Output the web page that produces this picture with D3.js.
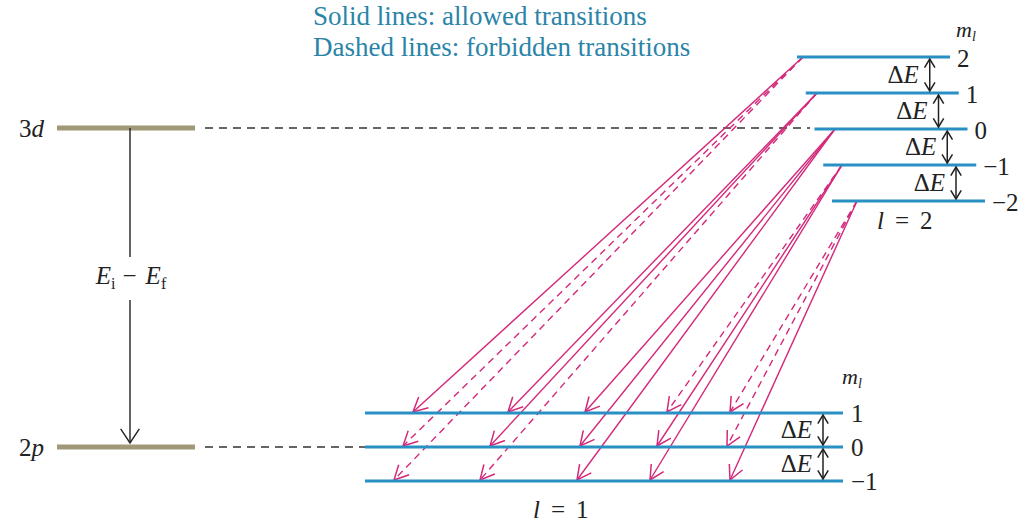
<!DOCTYPE html>
<html>
<head>
<meta charset="utf-8">
<script src="https://cdn.jsdelivr.net/npm/d3@7"></script>
<style>
  body { margin: 0; background: #fff; }
  text { font-family: "Liberation Serif", "DejaVu Serif", serif; }
</style>
</head>
<body>
<svg id="chart"></svg>
<script>
// data
const upperM = [2, 1, 0, -1, -2];      // l = 2 sublevels
const lowerM = [1, 0, -1];             // l = 1 sublevels
const legendLines = ["Solid lines: allowed transitions", "Dashed lines: forbidden transitions"];
const termLabels = ["3d", "2p"];

const width = 1030, height = 523;
const blue = "#2890c4", olive = "#a09876", magenta = "#d4287a", ink = "#222";

const svg = d3.select("#chart").attr("width", width).attr("height", height);
const fmt = d3.format("d");

// scales
const yUp = d3.scaleLinear().domain([2, -2]).range([57, 201]);
const xUpLeft = d3.scaleLinear().domain([2, -2]).range([797, 832]);
const upLen = 153;
const yLow = d3.scaleLinear().domain([1, -1]).range([413, 481]);
const xLow = [365, 843];
const yTerm = d3.scalePoint().domain(termLabels).range([128, 447]);

// transition start / tip positions
const startX = d3.scaleLinear().domain(upperM).range([803, 817, 835, 842, 857]);
const tipX = {
  "1": d3.scaleLinear().domain(upperM).range([413, 508, 585, 667, 730]),
  "0": d3.scaleLinear().domain(upperM).range([403, 490, 580, 657, 727]),
  "-1": d3.scaleLinear().domain(upperM).range([394, 480, 577, 650, 730])
};

function vHead(x, y, ang, len, half) {
  // open V arrowhead, tip at (x,y), ang = direction of travel
  const a1 = ang + Math.PI - half, a2 = ang + Math.PI + half;
  return `M${x + len * Math.cos(a1)},${y + len * Math.sin(a1)}L${x},${y}L${x + len * Math.cos(a2)},${y + len * Math.sin(a2)}`;
}

// legend
svg.append("g").selectAll("text").data(legendLines).join("text")
  .attr("x", 313).attr("y", (d, i) => 25 + i * 31)
  .attr("font-size", 27).attr("fill", "#2a84a8")
  .text(d => d);

// term levels (3d, 2p)
svg.append("g").selectAll("line").data(termLabels).join("line")
  .attr("x1", 57).attr("x2", 195)
  .attr("y1", d => yTerm(d)).attr("y2", d => yTerm(d))
  .attr("stroke", olive).attr("stroke-width", 5);

const tl = svg.append("g").selectAll("text").data(termLabels).join("text")
  .attr("x", 44).attr("y", d => yTerm(d) + 9)
  .attr("text-anchor", "end").attr("font-size", 25).attr("fill", ink);
tl.append("tspan").text(d => d[0]);
tl.append("tspan").attr("font-style", "italic").text(d => d[1]);

// dashed connectors
svg.append("line").attr("x1", 205).attr("x2", 810)
  .attr("y1", yTerm("3d")).attr("y2", yTerm("3d"))
  .attr("stroke", "#333").attr("stroke-width", 1.4).attr("stroke-dasharray", "8,6");
svg.append("line").attr("x1", 205).attr("x2", xLow[0])
  .attr("y1", yTerm("2p")).attr("y2", yTerm("2p"))
  .attr("stroke", "#333").attr("stroke-width", 1.4).attr("stroke-dasharray", "8,6");

// Ei - Ef arrow
const ax = 130;
svg.append("line").attr("x1", ax).attr("x2", ax).attr("y1", yTerm("3d")).attr("y2", 257)
  .attr("stroke", ink).attr("stroke-width", 1.4);
svg.append("line").attr("x1", ax).attr("x2", ax).attr("y1", 300).attr("y2", yTerm("2p") - 4)
  .attr("stroke", ink).attr("stroke-width", 1.4);
svg.append("path").attr("d", vHead(ax, yTerm("2p") - 4, Math.PI / 2, 17, 0.58))
  .attr("fill", "none").attr("stroke", ink).attr("stroke-width", 1.4);
const eq = svg.append("text").attr("x", 131).attr("y", 284).attr("text-anchor", "middle")
  .attr("font-size", 25).attr("fill", ink);
eq.append("tspan").attr("font-style", "italic").text("E");
eq.append("tspan").attr("font-size", 16).attr("dy", 5).text("i");
eq.append("tspan").attr("dy", -5).attr("dx", 7).text("−");
eq.append("tspan").attr("dx", 9).attr("font-style", "italic").text("E");
eq.append("tspan").attr("font-size", 16).attr("dy", 5).text("f");

// transitions
const trans = d3.cross(upperM, lowerM).map(([mi, mf]) => ({ mi, mf, allowed: Math.abs(mi - mf) <= 1 }));
const tg = svg.append("g");
trans.forEach(t => {
  const x1 = startX(t.mi), y1 = yUp(t.mi);
  const x2 = tipX[String(t.mf)](t.mi), y2 = yLow(t.mf) - 1;
  const ang = Math.atan2(y2 - y1, x2 - x1);
  tg.append("line").attr("x1", x1).attr("y1", y1).attr("x2", x2).attr("y2", y2)
    .attr("stroke", magenta).attr("stroke-width", 1.4)
    .attr("stroke-dasharray", t.allowed ? null : "7,5");
  tg.append("path").attr("d", vHead(x2, y2, ang, 16, 0.47))
    .attr("fill", "none").attr("stroke", magenta).attr("stroke-width", 1.5);
});

// upper levels (l = 2)
svg.append("g").selectAll("line").data(upperM).join("line")
  .attr("x1", d => xUpLeft(d)).attr("x2", d => xUpLeft(d) + upLen)
  .attr("y1", d => yUp(d)).attr("y2", d => yUp(d))
  .attr("stroke", blue).attr("stroke-width", 3);
svg.append("g").selectAll("text").data(upperM).join("text")
  .attr("x", d => xUpLeft(d) + upLen + 7).attr("y", d => yUp(d) + 10)
  .attr("font-size", 25).attr("fill", ink).text(d => fmt(d));

// lower levels (l = 1)
svg.append("g").selectAll("line").data(lowerM).join("line")
  .attr("x1", xLow[0]).attr("x2", xLow[1])
  .attr("y1", d => yLow(d)).attr("y2", d => yLow(d))
  .attr("stroke", blue).attr("stroke-width", 3);
svg.append("g").selectAll("text").data(lowerM).join("text")
  .attr("x", xLow[1] + 8).attr("y", d => yLow(d) + 9)
  .attr("font-size", 25).attr("fill", ink).text(d => fmt(d));

// delta E markers
function deltaE(x, yTop, yBot) {
  const g = svg.append("g");
  g.append("line").attr("x1", x).attr("x2", x).attr("y1", yTop + 2).attr("y2", yBot - 2)
    .attr("stroke", ink).attr("stroke-width", 1.5);
  g.append("path").attr("d", vHead(x, yTop + 2, -Math.PI / 2, 10, 0.55) + vHead(x, yBot - 2, Math.PI / 2, 10, 0.55))
    .attr("fill", "none").attr("stroke", ink).attr("stroke-width", 1.5);
  const t = g.append("text").attr("x", x - 11).attr("y", (yTop + yBot) / 2 + 8)
    .attr("text-anchor", "end").attr("font-size", 25).attr("fill", ink);
  t.append("tspan").text("Δ");
  t.append("tspan").attr("font-style", "italic").text("E");
}
d3.pairs(upperM).forEach(([a, b]) => deltaE(xUpLeft(b) + upLen - 29, yUp(a), yUp(b)));
d3.pairs(lowerM).forEach(([a, b]) => deltaE(823, yLow(a), yLow(b)));

// m_l and l labels
function mLabel(x, y) {
  const t = svg.append("text").attr("x", x).attr("y", y).attr("font-size", 22)
    .attr("font-style", "italic").attr("fill", ink);
  t.append("tspan").text("m");
  t.append("tspan").attr("font-size", 14).attr("dy", 4).text("l");
}
mLabel(956, 37);
mLabel(842, 384);

function lLabel(x, y, v) {
  const t = svg.append("text").attr("x", x).attr("y", y).attr("font-size", 25).attr("fill", ink);
  t.append("tspan").attr("font-style", "italic").text("l");
  t.append("tspan").attr("dx", 11).text("=");
  t.append("tspan").attr("dx", 11).text(v);
}
lLabel(877, 229, 2);
lLabel(533, 518, 1);
</script>
</body>
</html>
